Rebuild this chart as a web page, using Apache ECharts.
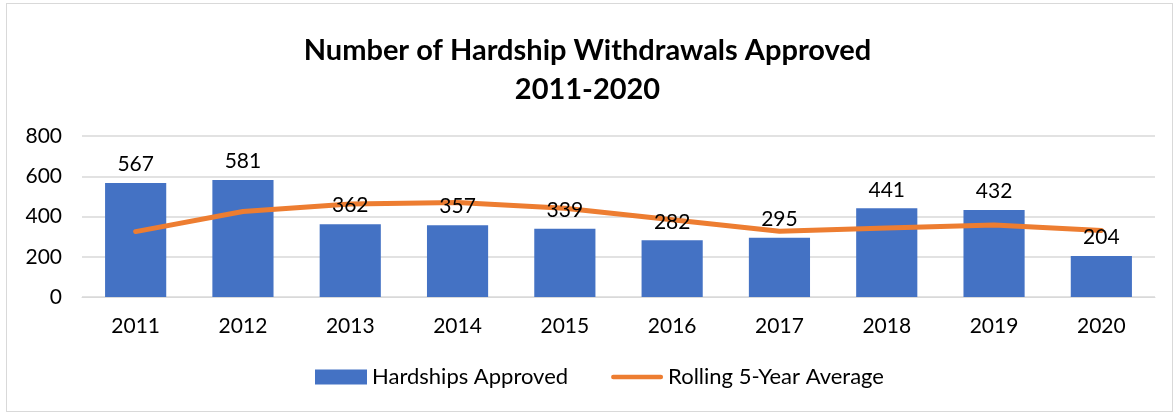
<!DOCTYPE html>
<html><head><meta charset="utf-8">
<script src="https://cdn.jsdelivr.net/npm/echarts@6/dist/echarts.min.js"></script>
<style>html,body{margin:0;padding:0;background:#fff}#c{width:1175px;height:414px}</style>
</head><body><div id="c"></div>
<script>
const years = ['2011','2012','2013','2014','2015','2016','2017','2018','2019','2020'];
const hardships = [567,581,362,357,339,282,295,441,432,204];
const rolling = [325,425,462,470,441,384,327,343,358,331];
const yTicks = [0,200,400,600,800];
const F = 'Lato, "Open Sans", sans-serif';
const chart = echarts.init(document.getElementById('c'));
chart.setOption({
  backgroundColor:'#fff',
  animation:false,
  title:{text:'Number of Hardship Withdrawals Approved\n2011-2020',left:'center',top:26,
    textStyle:{fontFamily:F,fontSize:29,fontWeight:'bold',color:'#000',lineHeight:39}},
  legend:{bottom:21,left:310,itemGap:43,itemWidth:52,itemHeight:15,
    textStyle:{fontFamily:F,fontSize:22,color:'#000'},
    data:[{name:'Hardships Approved',icon:'rect'},{name:'Rolling 5-Year Average',icon:'path://M3,4.5 L57,4.5 A2.5,2.5 0 0 1 57,9.5 L3,9.5 A2.5,2.5 0 0 1 3,4.5 Z'}]},
  grid:{left:82,right:20,top:136,bottom:117},
  xAxis:{type:'category',data:years,axisTick:{show:false},
    axisLine:{lineStyle:{color:'#d9d9d9'}},
    axisLabel:{fontFamily:F,fontSize:21,color:'#000',margin:19}},
  yAxis:{type:'value',min:0,max:800,interval:200,
    axisLabel:{fontFamily:F,fontSize:21,color:'#000',margin:20,formatter:v=>yTicks.includes(v)?String(v):''},
    splitLine:{lineStyle:{color:'#d9d9d9',width:1.5}}},
  series:[
    {name:'Hardships Approved',type:'bar',data:hardships,barWidth:'57%',z:2,
      itemStyle:{color:'#4472C4'}},
    {name:'Rolling 5-Year Average',type:'line',data:rolling,symbol:'none',z:3,
      lineStyle:{color:'#ED7D31',width:5,cap:'round'},itemStyle:{color:'#ED7D31'}},
    {name:'labels',type:'bar',data:hardships,barWidth:'57%',barGap:'-100%',z:5,silent:true,
      itemStyle:{color:'rgba(0,0,0,0)'},
      label:{show:true,position:'top',distance:8,fontFamily:F,fontSize:21,color:'#000'}}
  ]
});
</script>
<div style="position:absolute;left:6px;top:3px;width:1165px;height:407px;border:1px solid #d9d9d9;pointer-events:none"></div>
</body></html>
